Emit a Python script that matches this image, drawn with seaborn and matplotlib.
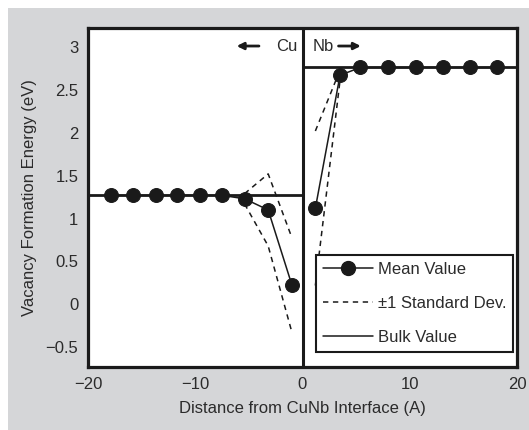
import numpy as np
import pandas as pd
import matplotlib
matplotlib.use("Agg")
import matplotlib.pyplot as plt
from matplotlib.lines import Line2D
from matplotlib.patches import Rectangle
import seaborn as sns

# Cu side (negative distance) and Nb side (positive distance)
cu_x = [-17.9, -15.8, -13.7, -11.7, -9.6, -7.5, -5.4, -3.2, -1.0]
cu_mean = [1.27, 1.27, 1.27, 1.27, 1.27, 1.27, 1.23, 1.10, 0.23]
nb_x = [1.2, 3.5, 5.4, 8.0, 10.6, 13.1, 15.6, 18.1]
nb_mean = [1.12, 2.67, 2.76, 2.76, 2.76, 2.76, 2.76, 2.76]

# standard deviation near the interface
cu_sd_x = [-5.4, -3.2, -1.0]
cu_sd = [0.06, 0.42, 0.55]
nb_sd_x = [1.2, 3.5]
nb_sd = [0.90, 0.06]

cu_bulk = 1.27
nb_bulk = 2.76

x_ticks = [-20, -10, 0, 10, 20]
y_ticks = [-0.5, 0, 0.5, 1, 1.5, 2, 2.5, 3]
legend_labels = ["Mean Value", "\u00b11 Standard Dev.", "Bulk Value"]

sns.set_style("white")
plt.rcParams["font.family"] = ["Liberation Sans Narrow", "Liberation Sans", "DejaVu Sans"]
text_color = "#2b2b2b"
ink = "#1a1a1a"
fs = 12

fig = plt.figure(figsize=(5.29, 4.30), dpi=100)
fig.patch.set_facecolor("white")
fig.patches.append(Rectangle((8 / 529, 0), 1 - 8 / 529, (430 - 8) / 430,
                             transform=fig.transFigure, facecolor="#d5d6d8",
                             edgecolor="none", zorder=-10))
ax = fig.add_axes([88 / 529, 63 / 430, 429 / 529, 339 / 430])
ax.set_facecolor("white")

df = pd.concat([
    pd.DataFrame({"x": cu_x, "E": cu_mean, "side": "Cu"}),
    pd.DataFrame({"x": nb_x, "E": nb_mean, "side": "Nb"}),
])

# bulk values and the interface
ax.plot([-20, 0], [cu_bulk, cu_bulk], color=ink, lw=2.0, zorder=2)
ax.plot([0, 20], [nb_bulk, nb_bulk], color=ink, lw=2.0, zorder=2)
ax.axvline(0, color=ink, lw=2.2, zorder=2)

# +/- 1 standard deviation
for sx, sd, xs, ms in [(cu_sd_x, cu_sd, cu_x, cu_mean), (nb_sd_x, nb_sd, nb_x, nb_mean)]:
    m = np.array([ms[xs.index(v)] for v in sx])
    s = np.array(sd)
    for sign in (1, -1):
        ax.plot(sx, m + sign * s, color=ink, lw=1.1, ls=(0, (3.5, 3)), zorder=3)

# mean values
sns.lineplot(data=df, x="x", y="E", units="side", estimator=None, ax=ax,
             color=ink, lw=1.1, marker="o", markersize=10,
             markeredgecolor=ink, zorder=4, legend=False)

ax.set_xlim(-20, 20)
ax.set_ylim(-0.73, 3.22)
ax.set_xticks(x_ticks)
ax.set_xticklabels(["\u221220", "\u221210", "0", "10", "20"])
ax.set_yticks(y_ticks)
ax.set_yticklabels(["\u22120.5", "0", "0.5", "1", "1.5", "2", "2.5", "3"])
ax.tick_params(direction="in", length=8, width=1.0, color="#666666",
               labelsize=fs, labelcolor=text_color, pad=7)
for sp in ax.spines.values():
    sp.set_linewidth(2.3)
    sp.set_color(ink)

ax.set_xlabel("Distance from CuNb Interface (A)", fontsize=fs, color=text_color, labelpad=7)
ax.set_ylabel("Vacancy Formation Energy (eV)", fontsize=fs, color=text_color, labelpad=6)

# side labels
ax.text(-1.5, 3.01, "Cu", fontsize=fs, color=text_color, ha="center", va="center")
ax.annotate("", xy=(-6.4, 3.01), xytext=(-3.8, 3.01),
            arrowprops=dict(arrowstyle="-|>", color=ink, lw=2.0, mutation_scale=10))
ax.text(1.9, 3.01, "Nb", fontsize=fs, color=text_color, ha="center", va="center")
ax.annotate("", xy=(5.7, 3.01), xytext=(3.1, 3.01),
            arrowprops=dict(arrowstyle="-|>", color=ink, lw=2.0, mutation_scale=10))

handles = [
    Line2D([], [], color=ink, lw=1.1, marker="o", markersize=10),
    Line2D([], [], color=ink, lw=1.1, ls=(0, (3.5, 3))),
    Line2D([], [], color=ink, lw=1.1),
]
leg = ax.legend(handles, legend_labels,
                loc="lower right", bbox_to_anchor=(0.99, 0.045), fontsize=fs,
                frameon=True, fancybox=False, framealpha=1, edgecolor=ink,
                handlelength=3.0, handletextpad=0.3, labelspacing=1.15,
                borderpad=0.4, borderaxespad=0.0)
leg.get_frame().set_linewidth(1.5)
for t in leg.get_texts():
    t.set_color(text_color)

fig.savefig("out.png", dpi=100)
